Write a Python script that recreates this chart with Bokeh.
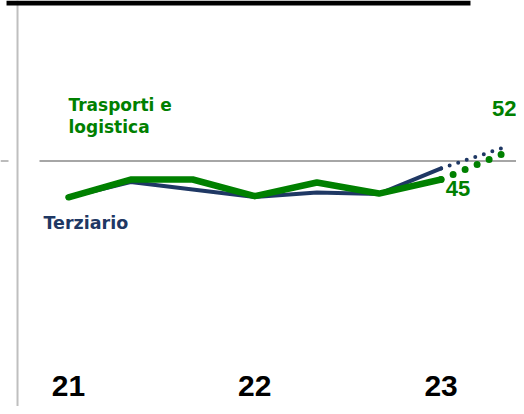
from bokeh.plotting import figure
from bokeh.models import Range1d, Span, BoxAnnotation
from bokeh.core.properties import value
from bokeh.embed import file_html
from bokeh.resources import INLINE

# ---- data ----
periods = [0, 1, 2, 3, 4, 5, 6]
terziario = [40.2, 44.3, 42.3, 40.3, 41.5, 41.1, 48.0]
trasporti = [40.2, 45.0, 45.0, 40.5, 44.2, 41.2, 45.0]
forecast_x = [6, 7]
terziario_fc = [48.0, 53.6]
trasporti_fc = [45.0, 52.0]
tick_pos = [0, 3, 6]
tick_labels = ["21", "22", "23"]
series_label_green = ["Trasporti e", "logistica"]
series_label_navy = ["Terziario"]
threshold = 50

NAVY = "#1F3864"
GREEN = "#008000"

X0, X1 = -1.095, 7.214
Y0, Y1 = -16.35, 93.38

p = figure(width=516, height=406, output_backend="svg", toolbar_location=None,
           x_range=Range1d(X0, X1), y_range=Range1d(Y0, Y1),
           min_border=0, outline_line_color=None)
p.axis.visible = False
p.grid.visible = False
p.background_fill_color = "white"
p.border_fill_color = "white"

# decorations
p.add_layout(Span(location=-0.821, dimension="height", line_color="#BFBFBF", line_width=2))
p.add_layout(BoxAnnotation(left=-0.998, right=6.473, top=Y1, bottom=92.03,
                           fill_color="black", fill_alpha=1, line_color=None))
p.segment(x0=[X0], y0=[threshold], x1=[-0.966], y1=[threshold],
          line_color="#A6A6A6", line_width=1.5)
p.segment(x0=[-0.467], y0=[threshold], x1=[X1], y1=[threshold],
          line_color="#A6A6A6", line_width=2)

# series
p.line(periods, terziario, line_color=NAVY, line_width=4, line_cap="round", line_join="round")
p.line(forecast_x, terziario_fc, line_color=NAVY, line_width=4, line_cap="round",
       line_dash="0 9")
p.line(periods, trasporti, line_color=GREEN, line_width=6.5, line_cap="round", line_join="round")
p.line(forecast_x, trasporti_fc, line_color=GREEN, line_width=7, line_cap="round",
       line_dash="0 13")

# labels
p.text(x=[0, 0], y=[65.25, 59.2], text=series_label_green,
       text_color=GREEN, text_font=value("DejaVu Sans"), text_font_style="bold",
       text_font_size="17px", text_baseline="alphabetic", text_align="left")
p.text(x=[-0.403], y=[33.36], text=series_label_navy,
       text_color=NAVY, text_font=value("DejaVu Sans"), text_font_style="bold",
       text_font_size="17.5px", text_baseline="alphabetic", text_align="left")
p.text(x=[periods[-1]], y=[trasporti[-1]], text=[f"{trasporti[-1]:.0f}"],
       x_offset=17, y_offset=9,
       text_color=GREEN, text_font=value("Liberation Sans"), text_font_style="bold",
       text_font_size="22px", text_baseline="middle", text_align="center")
p.text(x=[forecast_x[-1]], y=[trasporti_fc[-1]], text=[f"{trasporti_fc[-1]:.0f}"],
       x_offset=1, y_offset=-45,
       text_color=GREEN, text_font=value("Liberation Sans"), text_font_style="bold",
       text_font_size="22px", text_baseline="middle", text_align="center")
p.text(x=tick_pos, y=[-10.68] * len(tick_pos), text=tick_labels,
       text_color="black", text_font=value("Liberation Sans"), text_font_style="bold",
       text_font_size="30px", text_baseline="middle", text_align="center")

open("out.html", "w").write(file_html(p, INLINE))
